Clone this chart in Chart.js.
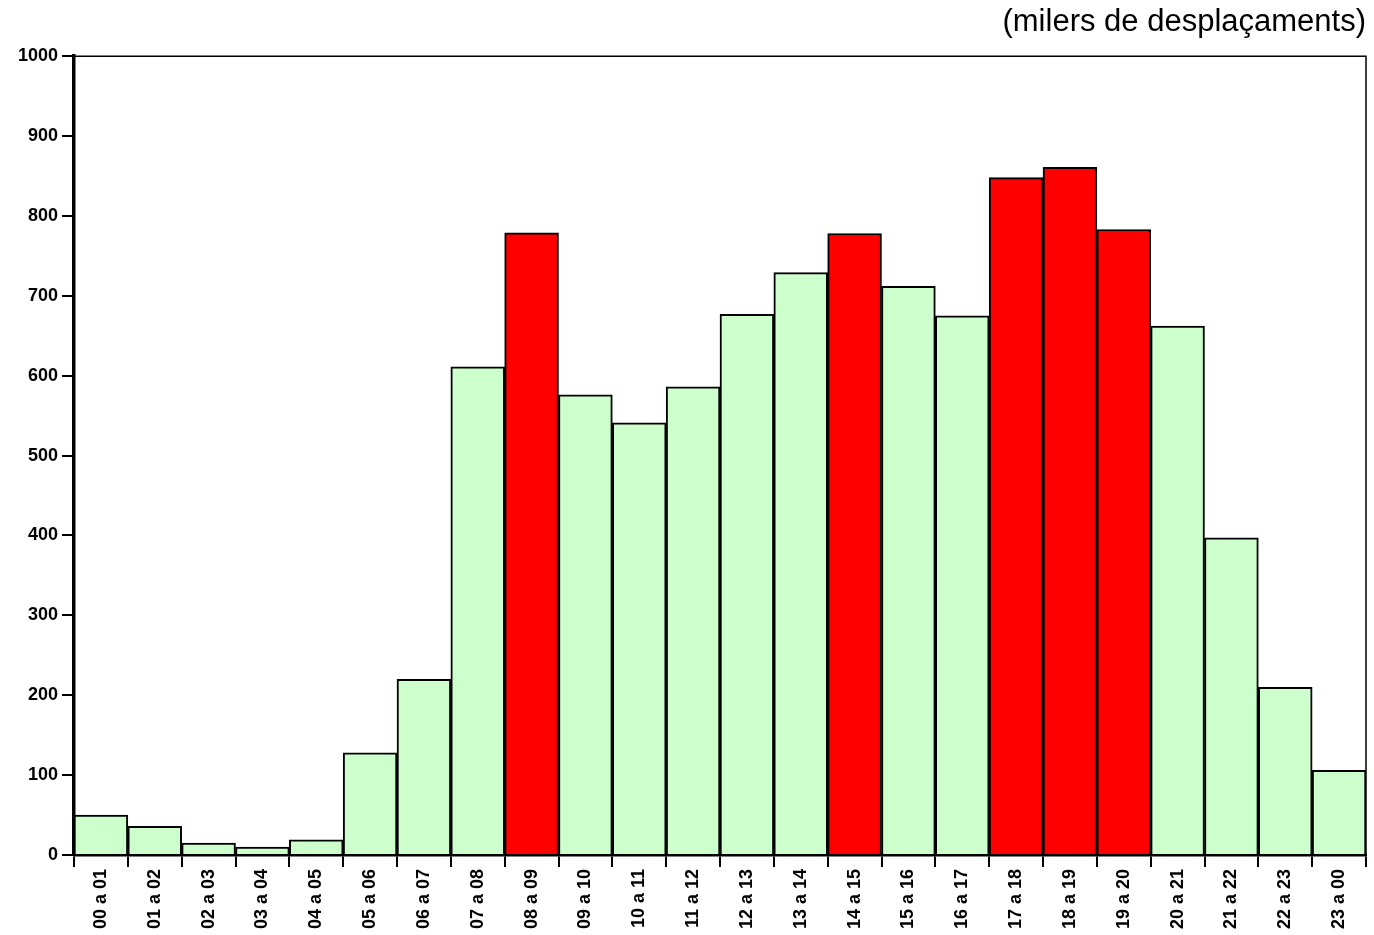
<!DOCTYPE html>
<html>
<head>
<meta charset="utf-8">
<script src="https://cdn.jsdelivr.net/npm/chart.js@4"></script>
<style>
  html, body { margin: 0; padding: 0; background: #fff; }
  #wrap { width: 1374px; height: 935px; }
</style>
</head>
<body>
<div id="wrap"><canvas id="myChart"></canvas></div>
<script>
// hour slots
const hours = ["00 a 01", "01 a 02", "02 a 03", "03 a 04", "04 a 05", "05 a 06", "06 a 07", "07 a 08",
  "08 a 09", "09 a 10", "10 a 11", "11 a 12", "12 a 13", "13 a 14", "14 a 15", "15 a 16",
  "16 a 17", "17 a 18", "18 a 19", "19 a 20", "20 a 21", "21 a 22", "22 a 23", "23 a 00"];

// trips per hour (thousands)
const trips = [50, 36, 15, 10, 19, 128, 220, 611, 779, 576, 541, 586, 677, 729, 778, 712,
  675, 848, 861, 783, 662, 397, 210, 106];

// peak hours drawn in red
const peakHours = ["08 a 09", "14 a 15", "17 a 18", "18 a 19", "19 a 20"];

const yMin = 0;
const yMax = 1000;
const yStep = 100;

const FONT = "Arial, 'Liberation Sans', sans-serif";

// thin frame on top and right of the plot
const framePlugin = {
  id: 'frame',
  afterDraw(chart) {
    const a = chart.chartArea;
    const c = chart.ctx;
    c.save();
    c.strokeStyle = '#000';
    c.lineWidth = 1.5;
    c.beginPath();
    c.moveTo(a.left, a.top);
    c.lineTo(a.right, a.top);
    c.lineTo(a.right, a.bottom);
    c.stroke();
    c.restore();
  }
};

new Chart(document.getElementById('myChart').getContext('2d'), {
  type: 'bar',
  data: {
    labels: hours,
    datasets: [{
      data: trips,
      backgroundColor: hours.map(h => peakHours.includes(h) ? '#ff0000' : '#ccffcc'),
      borderColor: '#000',
      borderWidth: 2,
      categoryPercentage: 1,
      barPercentage: 1
    }]
  },
  options: {
    responsive: true,
    maintainAspectRatio: false,
    animation: false,
    layout: { padding: { top: 0, right: 8, left: 0, bottom: 0 } },
    plugins: {
      legend: { display: false },
      tooltip: { enabled: false },
      title: {
        display: true,
        text: '(milers de desplaçaments)',
        align: 'end',
        color: '#000',
        font: { family: FONT, size: 31, weight: 'normal' },
        padding: { top: 4, bottom: 15 }
      }
    },
    scales: {
      x: {
        ticks: {
          color: '#000',
          font: { family: FONT, size: 18, weight: 'bold' },
          maxRotation: 90,
          minRotation: 90,
          autoSkip: false,
          padding: 2
        },
        grid: {
          drawOnChartArea: false,
          offset: true,
          color: '#000',
          lineWidth: 2,
          tickLength: 12
        },
        border: { color: '#000', width: 2.5 },
        afterFit(scale) { scale.height = 80; }
      },
      y: {
        min: yMin,
        max: yMax,
        ticks: {
          stepSize: yStep,
          color: '#000',
          font: { family: FONT, size: 18, weight: 'bold' },
          padding: 4,
          callback: v => String(v)
        },
        grid: {
          drawOnChartArea: false,
          color: '#000',
          lineWidth: 2,
          tickLength: 12
        },
        border: { color: '#000', width: 3.5 },
        afterFit(scale) { scale.width = 74; }
      }
    }
  },
  plugins: [framePlugin]
});
</script>
</body>
</html>
